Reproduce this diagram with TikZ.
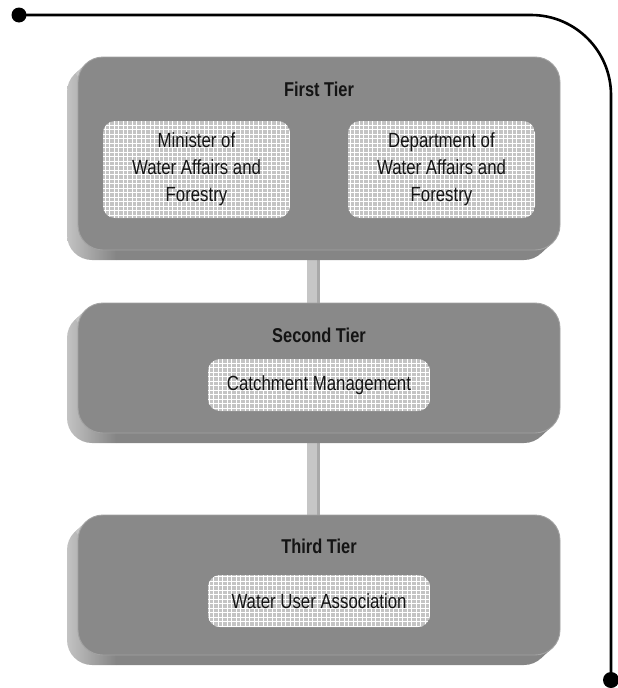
\documentclass[tikz,border=0pt]{standalone}
\usepackage{fontspec}
\setmainfont{Liberation Sans}[FakeStretch=0.82]
\usetikzlibrary{backgrounds}
\definecolor{facegray}{HTML}{898989}
\definecolor{bevL}{HTML}{C4C4C4}
\definecolor{bevD}{HTML}{858585}
\definecolor{rimgray}{HTML}{A2A2A2}
\definecolor{gridfill}{HTML}{C4C4C4}
\definecolor{connL}{HTML}{C6C6C6}
\definecolor{connD}{HTML}{A9A9A9}
\definecolor{inktext}{HTML}{141414}

\newcommand\tierbevel[4]{%
  \begin{scope}
    \clip[rounded corners=25pt] (#1-11,#2+10) rectangle (#3-11,#4+10);
    \shade[left color=bevL, right color=bevD] (#1-12,#2) rectangle (#1+38,#4+12);
    \fill[bevD] (#1+38,#2) rectangle (#3,#4+12);
  \end{scope}
  \fill[bevL] (#1+25,#2+25) -- (#1+8.2,#2+6.5) -- (#1-2.8,#2+16.5) -- (#1+14,#2+35) -- cycle;
  \fill[bevD] (#3-25,#4-25) -- (#3-8.2,#4-6.5) -- (#3-19.2,#4+3.5) -- (#3-36,#4-15) -- cycle;
}

\tikzset{
  face/.style={draw=rimgray, line width=0.9pt, fill=facegray, rounded corners=25pt,
    inner sep=0pt, outer sep=0pt},
  gridbox/.style={rounded corners=12pt, inner sep=0pt, outer sep=0pt, align=center,
    text=inktext, font=\fontsize{20.5}{27}\selectfont,
    path picture={
      \fill[gridfill] (path picture bounding box.south west) rectangle (path picture bounding box.north east);
      \draw[white, line width=0.8pt, step=4.5pt] (path picture bounding box.south west) grid (path picture bounding box.north east);
    }},
  tiertitle/.style={font=\bfseries\fontsize{20}{24}\selectfont, text=inktext},
  connlight/.style={draw=connL, line width=10pt},
  conndark/.style={draw=connD, line width=3pt},
  rail/.style={line width=2.6pt, rounded corners=80pt},
}

\begin{document}
\begin{tikzpicture}[x=1pt, y=-1pt]
\useasboundingbox (0,0) rectangle (618,688);

% rail
\coordinate (ls) at (19,15);
\coordinate (le) at (611,680);
\draw[rail] (ls) -| (le);
\fill (ls) circle (7.5pt);
\fill (le) circle (8pt);

% first tier
\tierbevel{78}{57}{560}{250}
\node[face, minimum width=482pt, minimum height=193pt] (t1) at (319,153.5) {};
\node[tiertitle] (h1) at (319,89) {First Tier};
\node[gridbox, minimum width=187pt, minimum height=97pt] (m1) at (196.5,169.5) {Minister of\\Water Affairs and\\Forestry};
\node[gridbox, minimum width=187pt, minimum height=97pt] (d1) at (441.5,169.5) {Department of\\Water Affairs and\\Forestry};

% second tier
\tierbevel{78}{303}{560}{433}
\node[face, minimum width=482pt, minimum height=130pt] (t2) at (319,368) {};
\node[tiertitle] (h2) at (319,335) {Second Tier};
\node[gridbox, minimum width=222pt, minimum height=52pt] (c2) at (319,385) {Catchment Management};

% third tier
\tierbevel{78}{515}{560}{655}
\node[face, minimum width=482pt, minimum height=140pt] (t3) at (319,585) {};
\node[tiertitle] (h3) at (319,546) {Third Tier};
\node[gridbox, minimum width=222pt, minimum height=52pt] (w3) at (319,601) {Water User Association};

% connectors
\begin{pgfonlayer}{background}
\draw[connlight] ([xshift=-7pt]t1.south) -- ([xshift=-7pt]t2.north);
\draw[conndark] ([xshift=-0.5pt]t1.south) -- ([xshift=-0.5pt]t2.north);
\draw[connlight] ([xshift=-7pt]t2.south) -- ([xshift=-7pt]t3.north);
\draw[conndark] ([xshift=-0.5pt]t2.south) -- ([xshift=-0.5pt]t3.north);
\end{pgfonlayer}
\end{tikzpicture}
\end{document}
